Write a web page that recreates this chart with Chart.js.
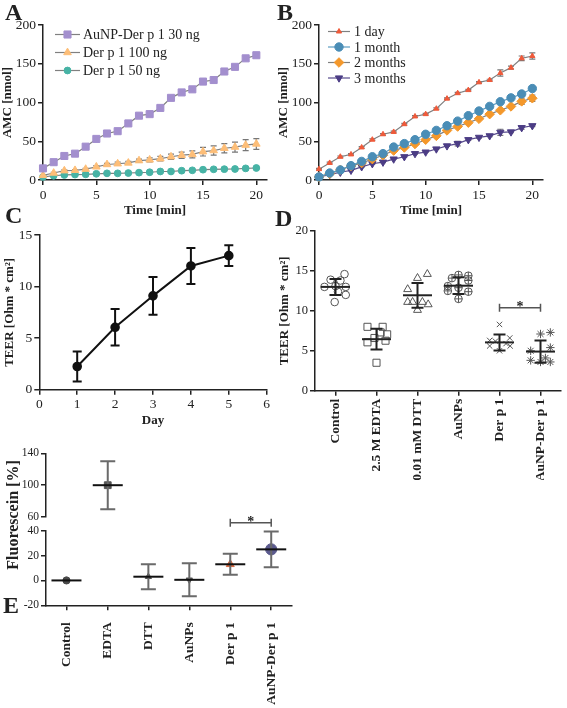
<!DOCTYPE html>
<html>
<head>
<meta charset="utf-8">
<title>Der p 1 panels</title>
<script src="https://cdn.jsdelivr.net/npm/chart.js@4.4.1/dist/chart.umd.min.js"></script>
<style>
  html, body { margin: 0; padding: 0; background: #fff; }
  #fig { position: relative; width: 567px; height: 708px; overflow: hidden; font-family: "Liberation Serif", "Times New Roman", serif; color: #222; }
  #fig canvas { position: absolute; }
  .letter { position: absolute; font-size: 24px; font-weight: bold; line-height: 1; }
  .ytitle { position: absolute; font-size: 16px; font-weight: bold; white-space: nowrap; transform: translate(-50%, -50%) rotate(-90deg); }
</style>
</head>
<body>
<div id="fig">
  <canvas id="cA" width="280" height="218" style="left:0;top:0"></canvas>
  <canvas id="cB" width="280" height="218" style="left:276px;top:0"></canvas>
  <canvas id="cC" width="278" height="213" style="left:2px;top:215px"></canvas>
  <canvas id="cD" width="290" height="265" style="left:277px;top:215px"></canvas>
  <canvas id="cE1" width="300" height="86" style="left:0;top:440px"></canvas>
  <canvas id="cE2" width="300" height="203" style="left:0;top:505px"></canvas>
  <div class="letter" style="left:5px;top:0">A</div>
  <div class="letter" style="left:277px;top:0">B</div>
  <div class="letter" style="left:5px;top:203px">C</div>
  <div class="letter" style="left:275px;top:206px">D</div>
  <div class="letter" style="left:3px;top:593px">E</div>
  <div class="ytitle" style="left:13px;top:515px">Fluorescein [%]</div>
</div>
<script>
// ── Panel A / B: AMC release over time ───────────────────────────────────────
const minutes = [0, 1, 2, 3, 4, 5, 6, 7, 8, 9, 10, 11, 12, 13, 14, 15, 16, 17, 18, 19, 20];
const minuteTicks = [0, 5, 10, 15, 20];

const aunpDer30    = [15, 23, 31, 34, 43, 53, 60, 63, 73, 83, 85, 93, 106, 113, 117, 127, 129, 140, 146, 157, 161];
const aunpDer30Err = [1, 1, 1, 1, 1, 1, 1, 1, 1, 1, 1, 1, 1, 1, 1, 1, 1, 3, 1.5, 2.5, 3];
const der100       = [6, 9, 12, 12.5, 14, 17, 20, 21, 22, 25, 26, 27.5, 30, 32, 33, 36.5, 38, 41, 42.5, 45, 46.5];
const der100Err    = [1, 1, 1, 1, 1, 1.5, 1.5, 2, 2, 2, 2.5, 3, 3.5, 4, 4.5, 5.5, 6, 6, 6.5, 7, 7];
const der50        = [4, 5.5, 6.5, 7, 7.3, 8, 8.6, 8.6, 9, 9.5, 10, 11, 11, 12, 12.5, 13.3, 13.8, 14, 14.2, 15, 15.5];
const der50Err     = [0.5, 0.5, 0.5, 0.5, 0.5, 0.5, 0.5, 0.5, 0.5, 0.5, 0.5, 0.5, 0.5, 0.5, 0.5, 0.5, 0.5, 0.5, 0.5, 0.5, 0.5];

const day1      = [14, 22, 30, 33, 42, 52, 59, 62, 72, 82, 85, 92, 105, 112, 116, 126, 129, 138, 145, 157, 160];
const day1Err   = [1, 1, 1, 1, 1, 1, 1, 1, 1, 1, 1, 1, 1, 1, 1, 1, 1, 4, 2, 3, 4];
const month1    = [4, 9, 13, 18.5, 24, 30, 34, 42.5, 47, 52, 59, 64, 70, 76, 83, 89, 95, 101, 106, 111, 118];
const month1Err = [0.5, 0.5, 0.5, 0.5, 0.5, 0.5, 0.5, 0.5, 0.5, 0.5, 0.5, 0.5, 0.5, 0.5, 0.5, 0.5, 0.5, 0.5, 1, 2, 1];
const month2    = [4, 8, 13, 18, 22, 27, 32, 38, 42, 46.5, 52, 57, 64, 69, 74, 79, 85, 90, 95, 101.5, 105.5];
const month2Err = [0.5, 0.5, 0.5, 0.5, 0.5, 0.5, 0.5, 0.5, 0.5, 0.5, 0.5, 0.5, 0.5, 0.5, 0.5, 0.5, 0.5, 1, 2, 4, 4];
const month3    = [4, 7, 10, 12.5, 17, 21, 23, 27, 30, 34, 36, 40, 44, 47, 52, 55, 57, 61.5, 62, 67.5, 70];
const month3Err = [0.5, 0.5, 0.5, 0.5, 0.5, 0.5, 0.5, 0.5, 0.5, 0.5, 0.5, 0.5, 0.5, 3, 1, 1, 1, 4, 1, 2, 1];

// ── Panel C: TEER build-up ───────────────────────────────────────────────────
const days    = [1, 2, 3, 4, 5];
const teer    = [2.25, 6.05, 9.1, 12.0, 13.0];
const teerErr = [1.45, 1.77, 1.83, 1.75, 1.0];

// ── Panel D: TEER per treatment, [jitter, value] ─────────────────────────────
const treatments = ["Control", "2.5 M EDTA", "0.01 mM DTT", "AuNPs", "Der p 1", "AuNP-Der p 1"];
const controlPts = [[0.22, 14.6], [-0.12, 13.9], [0.12, 13.8], [-0.27, 13.0], [0.25, 13.0], [0, 13.1], [0.06, 12.4], [0.25, 12.0], [-0.02, 11.1]];
const edtaPts    = [[-0.22, 8.0], [0.15, 8.0], [0.1, 7.3], [0.26, 7.06], [-0.05, 6.6], [0.22, 6.26], [-0.22, 6.06], [0, 3.5]];
const dttPts     = [[0.24, 14.6], [0, 14.1], [-0.24, 12.7], [-0.24, 11.1], [-0.12, 11.1], [0.12, 11.1], [0.26, 10.8], [0, 10.1]];
const aunpPts    = [[0, 14.5], [0.24, 14.4], [-0.16, 14.1], [0.24, 13.8], [-0.26, 13.1], [0, 12.9], [-0.26, 12.5], [0.24, 12.4], [0, 11.5]];
const derPts     = [[0, 8.3], [0.25, 6.6], [-0.24, 6.3], [-0.1, 6.2], [0.16, 5.9], [0.26, 5.6], [-0.24, 5.6], [0, 5.0]];
const aunpDerPts = [[0.24, 7.3], [0, 7.1], [0.24, 5.4], [-0.24, 5.0], [0.12, 4.1], [-0.24, 3.8], [0, 3.6], [0.24, 3.6]];
const teerMean   = [13.0, 6.45, 11.95, 13.15, 6.05, 4.9];
const teerSd     = [1.0, 1.3, 1.55, 1.05, 1.0, 1.4];

// ── Panel E: fluorescein permeability ────────────────────────────────────────
const fluoGroups = ["Control", "EDTA", "DTT", "AuNPs", "Der p 1", "AuNP-Der p 1"];
const fluoMean   = [0, 100, 3, 0.5, 13, 25];
const fluoSd     = [0, 30, 10, 13.3, 8.5, 14.3];

// ── Shared look ──────────────────────────────────────────────────────────────
const SERIF = '"Liberation Serif", "Times New Roman", serif';
Chart.defaults.font.family = SERIF;
Chart.defaults.color = "#222";

function axis(o) {
  return {
    type: o.type || "linear",
    min: o.min,
    max: o.max,
    offset: o.offset || false,
    border: { color: "#222", width: 1.5 },
    grid: { drawOnChartArea: false, offset: false, tickLength: 5, color: "#222", lineWidth: 1.5 },
    ticks: Object.assign({ stepSize: o.step, font: { size: o.fontSize || 13.5 }, color: "#222", padding: 2 }, o.ticks || {}),
    title: o.title
      ? { display: true, text: o.title, font: { size: 13, weight: "bold" }, padding: 0, color: "#222" }
      : { display: false },
    afterBuildTicks: o.afterBuildTicks,
    afterFit: (s) => { if (s.isHorizontal()) s.height = o.size; else s.width = o.size; },
  };
}

function options(padding, scales, extra) {
  return {
    responsive: false,
    animation: false,
    devicePixelRatio: 1,
    layout: { padding },
    scales,
    plugins: Object.assign({ legend: { display: false }, tooltip: { enabled: false } }, extra || {}),
  };
}

// ── Plugins: error bars, inline legend, significance bracket ────────────────
function drawErrors(chart, front) {
  const ctx = chart.ctx;
  chart.data.datasets.forEach((ds, i) => {
    if (!ds.errors || !!ds.errorFront !== front) return;
    const meta = chart.getDatasetMeta(i);
    const ys = chart.scales[meta.yAxisID];
    ctx.save();
    meta.data.forEach((el, j) => {
      const v = meta.controller.getParsed(j).y;
      if (v < ys.min || v > ys.max) return;
      const e = ds.errors[j] || 0;
      const x = el.x;
      const c = ds.capHalf || 3;
      if (e > 0) {
        const yt = ys.getPixelForValue(v + e), yb = ys.getPixelForValue(v - e);
        ctx.strokeStyle = ds.errorColor || "#777";
        ctx.lineWidth = ds.errorWidth || 1;
        ctx.beginPath();
        ctx.moveTo(x, yt); ctx.lineTo(x, yb);
        ctx.moveTo(x - c, yt); ctx.lineTo(x + c, yt);
        ctx.moveTo(x - c, yb); ctx.lineTo(x + c, yb);
        ctx.stroke();
      }
      if (ds.meanHalf) {
        const y = ys.getPixelForValue(v);
        ctx.strokeStyle = ds.meanColor || "#111";
        ctx.lineWidth = ds.meanWidth || 2;
        ctx.beginPath();
        ctx.moveTo(x - ds.meanHalf, y); ctx.lineTo(x + ds.meanHalf, y);
        ctx.stroke();
      }
    });
    ctx.restore();
  });
}

const errorBars = {
  id: "errorBars",
  beforeDatasetsDraw(chart) { drawErrors(chart, false); },
  afterDatasetsDraw(chart) { drawErrors(chart, true); },
};

const inlineLegend = {
  id: "inlineLegend",
  afterDraw(chart, args, o) {
    const ctx = chart.ctx;
    let row = 0;
    chart.data.datasets.forEach((ds) => {
      if (!ds.label) return;
      const cy = o.y + row * o.dy;
      const cx = o.x + o.lineLen / 2;
      ctx.save();
      ctx.strokeStyle = ds.borderColor;
      ctx.lineWidth = ds.borderWidth || 1;
      ctx.beginPath(); ctx.moveTo(o.x, cy); ctx.lineTo(o.x + o.lineLen, cy); ctx.stroke();
      ctx.fillStyle = ds.pointBackgroundColor;
      ctx.strokeStyle = ds.pointBorderColor;
      ctx.lineWidth = ds.pointBorderWidth || 1;
      Chart.helpers.drawPoint(ctx, {
        pointStyle: ds.pointStyle, radius: ds.pointRadius,
        rotation: ds.pointRotation || 0, borderWidth: ds.pointBorderWidth || 1,
      }, cx, cy);
      ctx.fillStyle = "#222";
      ctx.font = "14px " + SERIF;
      ctx.textAlign = "left";
      ctx.textBaseline = "middle";
      ctx.fillText(ds.label, o.x + o.lineLen + o.gap, cy + 1);
      ctx.restore();
      row++;
    });
  },
};

const sigBracket = {
  id: "sigBracket",
  afterDatasetsDraw(chart, args, o) {
    const ctx = chart.ctx;
    const x1 = chart.scales.x.getPixelForValue(o.from);
    const x2 = chart.scales.x.getPixelForValue(o.to);
    const y = chart.scales.y.getPixelForValue(o.level);
    ctx.save();
    ctx.strokeStyle = "#555";
    ctx.lineWidth = 1.5;
    ctx.beginPath();
    ctx.moveTo(x1, y); ctx.lineTo(x2, y);
    ctx.moveTo(x1, y - 4); ctx.lineTo(x1, y + 4);
    ctx.moveTo(x2, y - 4); ctx.lineTo(x2, y + 4);
    ctx.stroke();
    ctx.fillStyle = "#222";
    ctx.font = "bold 14px " + SERIF;
    ctx.textAlign = "center";
    ctx.textBaseline = "alphabetic";
    ctx.fillText("*", (x1 + x2) / 2, y + 3);
    ctx.restore();
  },
};

// ── Panel A ──────────────────────────────────────────────────────────────────
function timeSeries(label, values, errors, style) {
  return Object.assign({
    label,
    data: minutes.map((t, i) => ({ x: t, y: values[i] })),
    errors, errorColor: "#777", errorWidth: 1.2, capHalf: 3,
    borderColor: "#808080", borderWidth: 1.2, pointBorderWidth: 1, clip: false,
  }, style);
}

const timeX = (size) => axis({
  min: 0, max: 21, size, title: "Time [min]",
  afterBuildTicks: (s) => { s.ticks = minuteTicks.map((v) => ({ value: v })); },
});
const amcY = () => axis({ min: 0, max: 200, step: 50, size: 43, title: "AMC [nmol]" });

new Chart(document.getElementById("cA"), {
  type: "line",
  data: {
    datasets: [
      timeSeries("AuNP-Der p 1 30 ng", aunpDer30, aunpDer30Err,
        { pointStyle: "rect", pointRadius: 5, pointBackgroundColor: "#a38fce", pointBorderColor: "#a38fce" }),
      timeSeries("Der p 1 100 ng", der100, der100Err,
        { pointStyle: "triangle", pointRadius: 4.4, pointBackgroundColor: "#fdbe78", pointBorderColor: "#fdbe78" }),
      timeSeries("Der p 1 50 ng", der50, der50Err,
        { pointStyle: "circle", pointRadius: 3.4, pointBackgroundColor: "#47b3a5", pointBorderColor: "#47b3a5" }),
    ],
  },
  options: options({ top: 25, right: 13, left: 0, bottom: 0 }, { x: timeX(38), y: amcY() },
    { inlineLegend: { x: 55, y: 34.5, dy: 18, lineLen: 25, gap: 3 } }),
  plugins: [errorBars, inlineLegend],
});

// ── Panel B ──────────────────────────────────────────────────────────────────
new Chart(document.getElementById("cB"), {
  type: "line",
  data: {
    datasets: [
      timeSeries("1 day", day1, day1Err,
        { pointStyle: "triangle", pointRadius: 3, pointBackgroundColor: "#ef5a3a", pointBorderColor: "#ef5a3a" }),
      timeSeries("1 month", month1, month1Err,
        { borderColor: "#5b9cc2", pointStyle: "circle", pointRadius: 4.2, pointBackgroundColor: "#4a8db6", pointBorderColor: "#4a8db6" }),
      timeSeries("2 months", month2, month2Err,
        { pointStyle: "rectRot", pointRadius: 4.8, pointBackgroundColor: "#f4982b", pointBorderColor: "#f4982b" }),
      timeSeries("3 months", month3, month3Err,
        { borderColor: "#574a8c", pointStyle: "triangle", pointRotation: 180, pointRadius: 4.2, pointBackgroundColor: "#4c3d85", pointBorderColor: "#4c3d85" }),
    ],
  },
  options: options({ top: 25, right: 13, left: 0, bottom: 0 }, { x: timeX(38), y: amcY() },
    { inlineLegend: { x: 52, y: 31.5, dy: 15.5, lineLen: 22, gap: 4 } }),
  plugins: [errorBars, inlineLegend],
});

// ── Panel C ──────────────────────────────────────────────────────────────────
new Chart(document.getElementById("cC"), {
  type: "line",
  data: {
    datasets: [{
      data: days.map((d, i) => ({ x: d, y: teer[i] })),
      errors: teerErr, errorColor: "#111", errorWidth: 2, capHalf: 4.5,
      borderColor: "#111", borderWidth: 2,
      pointStyle: "circle", pointRadius: 3.8, pointBackgroundColor: "#111", pointBorderColor: "#111",
    }],
  },
  options: options({ top: 20, right: 13.3, left: 0, bottom: 0 }, {
    x: axis({ min: 0, max: 6, step: 1, size: 38.3, title: "Day" }),
    y: axis({ min: 0, max: 15, step: 5, size: 37.3, title: "TEER [Ohm * cm\u00b2]" }),
  }),
  plugins: [errorBars],
});

// ── Panel D ──────────────────────────────────────────────────────────────────
function group(points, idx, style) {
  return Object.assign({
    data: points.map(([dx, v]) => ({ x: idx + dx, y: v })),
    pointBorderColor: "#555", pointBackgroundColor: "rgba(0,0,0,0)",
    pointBorderWidth: 1, pointRadius: 4,
  }, style);
}

new Chart(document.getElementById("cD"), {
  type: "scatter",
  data: {
    datasets: [
      group(controlPts, 0, { pointStyle: "circle", pointRadius: 3.8 }),
      group(edtaPts, 1, { pointStyle: "rect", pointRadius: 5 }),
      group(dttPts, 2, { pointStyle: "triangle", pointRadius: 4.6 }),
      group(aunpPts, 3, { pointStyle: "circle", pointRadius: 3.8 }),
      group(aunpPts, 3, { pointStyle: "cross", pointRadius: 3.8 }),
      group(derPts, 4, { pointStyle: "crossRot", pointRadius: 3.8 }),
      group(aunpDerPts, 5, { pointStyle: "star", pointRadius: 4.2 }),
      {
        data: teerMean.map((m, i) => ({ x: i, y: m })),
        pointRadius: 0, errors: teerSd, errorFront: true,
        errorColor: "#222", errorWidth: 2, capHalf: 6, meanHalf: 14.5, meanColor: "#222", meanWidth: 2,
      },
    ],
  },
  options: options({ top: 16, right: 2, left: 0, bottom: 0 }, {
    x: axis({
      min: -0.5, max: 5.5, size: 89.3,
      afterBuildTicks: (s) => { s.ticks = treatments.map((_, i) => ({ value: i })); },
      ticks: {
        font: { size: 13.5, weight: "bold" }, minRotation: 90, maxRotation: 90, autoSkip: false, padding: 3,
        callback: (v) => treatments[v],
      },
    }),
    y: axis({ min: 0, max: 20, step: 5, size: 38, fontSize: 12.5, title: "TEER [Ohm * cm\u00b2]" }),
  }, { sigBracket: { from: 4, to: 5, level: 10.4 } }),
  plugins: [errorBars, sigBracket],
});

// ── Panel E (broken y axis: two stacked charts) ─────────────────────────────
function fluoDataset() {
  return {
    data: fluoMean,
    showLine: false,
    pointStyle: ["circle", "rect", "triangle", "triangle", "triangle", "circle"],
    pointRotation: [0, 0, 0, 180, 0, 0],
    pointRadius: [3.6, 4.8, 3.6, 3.6, 4.6, 5.6],
    pointBackgroundColor: ["#4a4a4a", "#555", "#555", "#555", "#d8683f", "#5b5a8e"],
    pointBorderColor: ["#4a4a4a", "#555", "#555", "#555", "#d8683f", "#5b5a8e"],
    errors: fluoSd, errorFront: true, errorColor: "#6a6a6a", errorWidth: 2, capHalf: 7.5,
    meanHalf: 15, meanColor: "#111", meanWidth: 2,
  };
}

new Chart(document.getElementById("cE1"), {
  type: "line",
  data: { labels: fluoGroups, datasets: [fluoDataset()] },
  options: options({ top: 13.3, right: 7, left: 0, bottom: 7.7 }, {
    x: Object.assign(axis({ type: "category", offset: true, size: 0 }), { display: false }),
    y: axis({ min: 60, max: 140, step: 20, size: 46, fontSize: 11.5 }),
  }),
  plugins: [errorBars],
});

new Chart(document.getElementById("cE2"), {
  type: "line",
  data: { labels: fluoGroups, datasets: [fluoDataset()] },
  options: options({ top: 25.7, right: 7, left: 0, bottom: 0 }, {
    x: axis({
      type: "category", offset: true, size: 102.7,
      ticks: { font: { size: 13.5, weight: "bold" }, minRotation: 90, maxRotation: 90, autoSkip: false, padding: 12 },
    }),
    y: axis({ min: -20, max: 40, step: 20, size: 46, fontSize: 11.5 }),
  }, { sigBracket: { from: 4, to: 5, level: 46.4 } }),
  plugins: [errorBars, sigBracket],
});
</script>
</body>
</html>
